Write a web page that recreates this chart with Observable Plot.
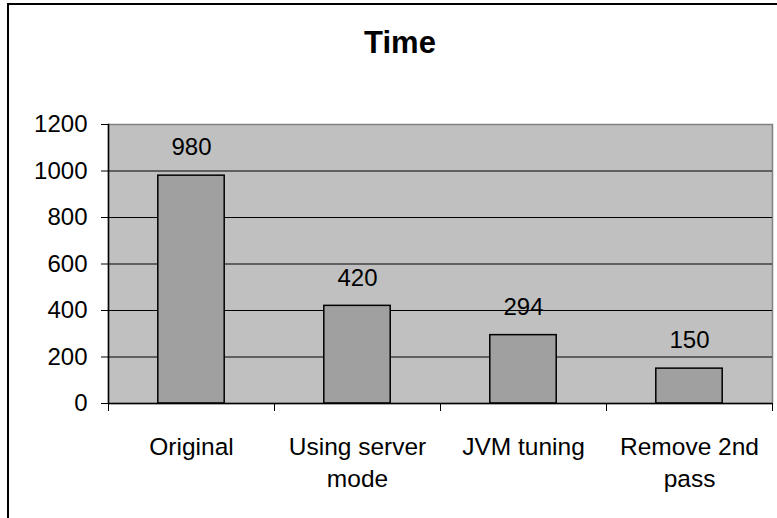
<!DOCTYPE html>
<html>
<head>
<meta charset="utf-8">
<script src="https://cdn.jsdelivr.net/npm/d3@7"></script>
<script src="https://cdn.jsdelivr.net/npm/@observablehq/plot@0.6"></script>
<style>
  html, body { margin: 0; padding: 0; background: #fff; }
  #wrap { position: relative; width: 777px; height: 518px; overflow: hidden; font-family: "Liberation Sans", Arial, sans-serif; }
  #wrap svg { position: absolute; left: 0; top: 0; }
  #border { position: absolute; left: 7px; top: 3px; width: 900px; height: 900px; border-left: 2px solid #000; border-top: 2px solid #000; box-sizing: border-box; }
  #title { position: absolute; left: 0; top: 27px; width: 800px; text-align: center; font-weight: bold; font-size: 31px; line-height: 31px; color: #000; }
</style>
</head>
<body>
<div id="wrap">
  <div id="border"></div>
  <div id="title">Time</div>
</div>
<script>
const categories = ["Original", "Using server mode", "JVM tuning", "Remove 2nd pass"];
const categoryLabels = ["Original", "Using server\nmode", "JVM tuning", "Remove 2nd\npass"];
const values = [980, 420, 294, 150];
const yTicks = [0, 200, 400, 600, 800, 1000, 1200];
const gridLines = [200, 400, 600, 800, 1000];

const data = categories.map((c, i) => ({category: c, i, value: values[i]}));
const font = "Liberation Sans, Arial, sans-serif";

const chart = Plot.plot({
  width: 777,
  height: 518,
  marginLeft: 108,
  marginRight: 5,
  marginTop: 124,
  marginBottom: 115,
  style: {fontFamily: font, background: "transparent", overflow: "visible"},
  x: {domain: [0, categories.length], axis: null},
  y: {domain: [0, 1200], axis: null},
  marks: [
    Plot.frame({fill: "#C0C0C0", stroke: "#808080", strokeWidth: 1.5}),
    Plot.ruleY(gridLines, {stroke: "#000", strokeWidth: 1}),
    Plot.rectY(data, {
      x1: d => d.i + 0.3,
      x2: d => d.i + 0.7,
      y: "value",
      fill: "#A0A0A0",
      stroke: "#000",
      strokeWidth: 1.5
    }),
    Plot.ruleY([0], {stroke: "#000", strokeWidth: 1.5}),
    Plot.frame({anchor: "left", stroke: "#000", strokeWidth: 1.5}),
    Plot.axisY({
      ticks: yTicks,
      label: null,
      tickSize: 7,
      tickPadding: 14,
      tickFormat: d => String(d),
      fontSize: 24,
      fontFamily: font,
      stroke: "#000",
      fill: "#000"
    }),
    Plot.axisX({
      ticks: d3.range(categories.length + 1),
      label: null,
      tickSize: 8,
      tickFormat: () => "",
      stroke: "#000"
    }),
    Plot.axisX({
      ticks: categories.map((c, i) => i + 0.5),
      label: null,
      tickSize: 0,
      tickPadding: 29,
      tickFormat: t => categoryLabels[Math.floor(t)],
      lineHeight: 1.31,
      fontSize: 24.5,
      fontFamily: font,
      fill: "#000"
    }),
    Plot.text(data, {
      x: d => d.i + 0.5,
      y: "value",
      text: d => String(d.value),
      dy: -28,
      fontSize: 24,
      fontFamily: font,
      fill: "#000"
    })
  ]
});

document.getElementById("wrap").insertBefore(chart, document.getElementById("border"));
</script>
</body>
</html>
